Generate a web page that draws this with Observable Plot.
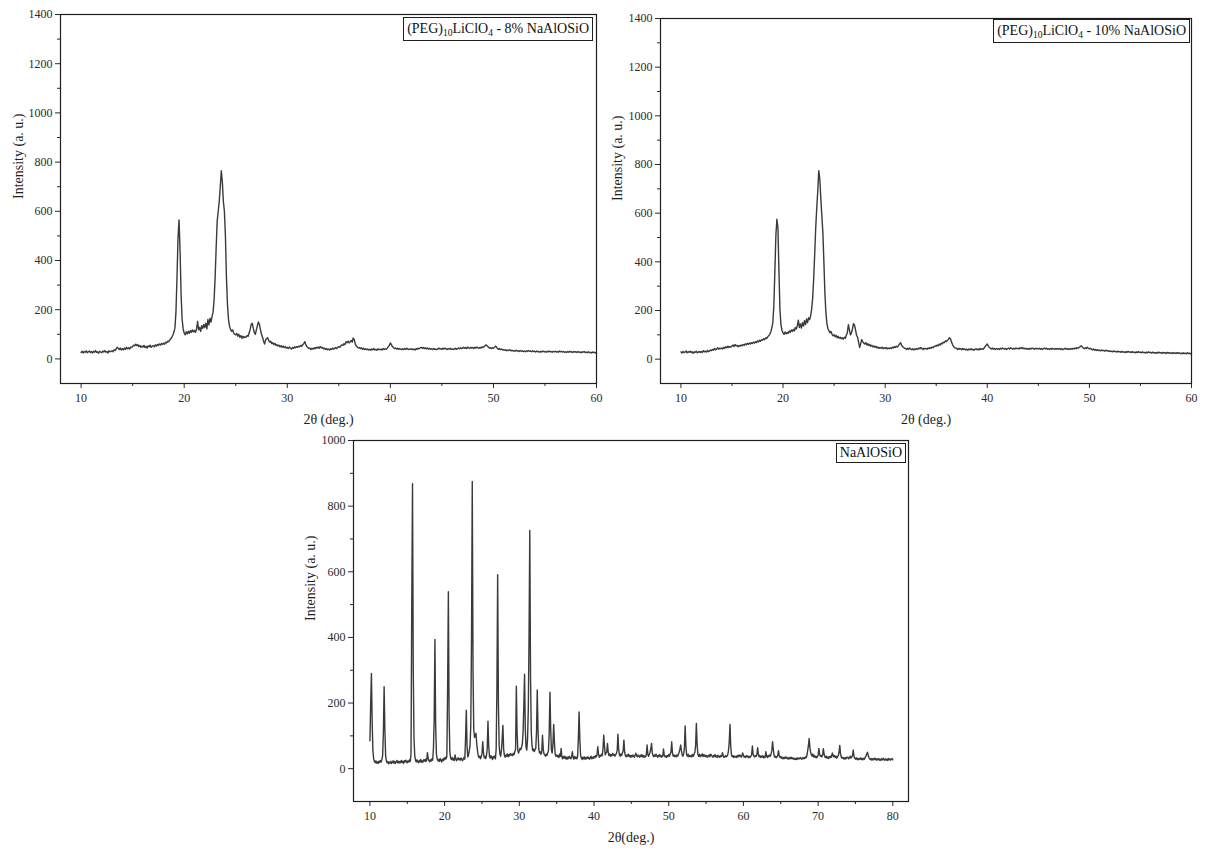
<!DOCTYPE html>
<html>
<head>
<meta charset="utf-8">
<script src="https://cdn.jsdelivr.net/npm/d3@7"></script>
<script src="https://cdn.jsdelivr.net/npm/@observablehq/plot@0.6"></script>
<style>
  html, body { margin: 0; padding: 0; background: #fff; }
  #root { position: relative; width: 1205px; height: 857px; background: #fff; overflow: hidden; }
  .panel { position: absolute; }
  #root svg text, #root svg tspan { font-family: 'Liberation Serif', 'Times New Roman', serif !important; }
  .leg {
    position: absolute; box-sizing: border-box; background: #fff;
    border: 1.3px solid #1e1e1e; padding: 0 3px; white-space: nowrap;
    font-family: 'Liberation Serif', 'Times New Roman', serif; font-size: 14px; color: #111;
  }
  .leg sub { font-size: 9.5px; vertical-align: -3px; line-height: 0; }
</style>
</head>
<body>
<div id="root">
  <div id="p1" class="panel" style="left:0px;top:0px"></div>
  <div id="p2" class="panel" style="left:610px;top:0px"></div>
  <div id="p3" class="panel" style="left:290px;top:430px"></div>
</div>
<script>
// ---------- DATA ----------
// sampling grid of the diffractograms (degrees 2θ)
const STEP = 0.1;
const START_TOP = 10.0;      // both PEG samples: 10.0 … 60.0
const START_BOTTOM = 10.0;   // NaAlOSiO: 10.0 … 80.0

// (PEG)10LiClO4 - 8% NaAlOSiO, intensity at 10.0, 10.1, … 60.0
const intensity8 = [
 26,31,24,30,27,33,25,29,32,26,
 30,24,31,27,34,26,29,23,31,28,
 25,32,28,34,27,30,24,33,29,31,
 33,29,37,34,41,47,43,38,44,36,
 42,37,44,39,47,41,45,40,48,46,
 51,56,53,60,54,58,50,55,47,52,
 48,55,46,51,44,53,49,56,47,52,
 54,49,57,52,59,55,61,56,63,59,
 64,60,68,65,72,70,77,82,88,97,
 108,125,190,330,490,565,440,260,160,122,
 105,98,110,102,112,104,115,108,118,110,
 116,108,122,152,118,128,112,135,124,140,
 128,145,122,160,138,165,150,172,190,240,
 330,450,560,600,640,700,765,720,640,600,
 500,330,220,160,132,120,112,118,106,100,
 98,104,92,100,88,95,84,92,86,90,
 88,95,92,105,120,140,145,125,108,100,
 118,135,150,140,118,100,88,72,60,78,
 82,86,75,68,72,62,66,58,63,55,
 58,52,56,49,54,47,52,46,50,44,
 47,42,48,44,40,46,43,49,45,50,
 47,52,49,55,51,58,62,70,58,50,
 46,42,44,38,43,40,45,41,47,44,
 48,43,50,45,47,41,44,39,42,37,
 40,36,41,38,44,40,43,46,42,48,
 50,47,53,57,55,62,58,70,66,72,
 65,70,75,68,85,78,60,52,48,44,
 46,42,45,39,43,38,41,37,40,36,
 39,35,40,37,42,36,39,35,41,38,
 37,40,36,42,38,41,39,44,50,55,
 65,58,50,46,42,44,40,43,39,42,
 40,37,41,38,42,39,43,40,38,41,
 38,41,37,40,36,42,39,43,41,45,
 47,43,46,42,45,41,44,40,43,39,
 41,38,42,39,40,37,41,44,40,42,
 39,43,40,44,41,38,42,40,43,39,
 41,38,40,43,39,42,44,41,45,42,
 44,47,43,46,42,48,45,43,47,44,
 46,42,47,44,48,45,43,47,44,49,
 46,50,54,57,52,48,44,46,42,45,
 43,47,52,48,42,39,42,38,40,36,
 38,35,37,33,36,34,37,33,35,32,
 34,31,35,32,33,30,34,31,33,30,
 32,29,33,30,34,31,32,29,33,30,
 31,28,32,29,30,27,31,28,32,29,
 30,27,31,28,32,29,30,27,31,29,
 31,28,30,27,32,29,31,28,30,27,
 29,26,30,27,31,28,29,26,30,28,
 29,26,30,27,28,25,29,27,30,26,
 28,25,29,26,27,24,28,26,27,25,
 24
];

// (PEG)10LiClO4 - 10% NaAlOSiO, intensity at 10.0, 10.1, … 60.0
const intensity10 = [
 30,25,32,27,29,34,26,31,28,33,
 27,31,24,30,28,33,26,29,32,27,
 31,28,35,30,33,29,36,31,34,38,
 35,40,37,44,38,42,47,41,45,43,
 46,42,49,45,51,47,53,48,52,50,
 54,58,52,60,55,57,51,56,53,58,
 55,60,57,63,59,65,61,66,62,68,
 64,70,66,72,68,75,71,78,74,80,
 78,84,80,88,85,92,96,102,112,128,
 150,220,360,510,575,540,360,200,140,118,
 108,102,112,104,110,106,116,110,120,114,
 122,116,130,124,138,160,130,145,128,150,
 136,158,142,165,150,170,162,178,205,250,
 330,430,540,620,690,775,740,660,590,520,
 400,270,190,145,125,116,108,114,102,96,
 100,92,98,88,94,86,90,84,88,82,
 90,86,98,110,142,120,100,108,125,146,
 140,120,98,90,70,48,62,80,72,66,
 62,68,58,64,56,60,53,57,50,54,
 49,53,46,50,44,48,45,49,43,47,
 44,48,42,46,43,47,44,49,46,52,
 48,53,50,56,62,68,58,52,48,45,
 44,40,45,41,46,42,39,43,38,42,
 40,44,41,46,43,48,44,40,45,42,
 44,41,46,43,48,45,50,47,52,55,
 53,58,55,62,58,66,63,70,68,75,
 72,78,82,88,84,70,60,52,48,45,
 44,40,45,41,43,39,44,40,42,38,
 41,37,42,39,43,38,41,37,40,43,
 39,42,38,44,40,43,41,46,52,58,
 62,55,48,45,42,46,41,44,40,43,
 41,44,40,45,42,46,43,41,44,40,
 43,46,42,47,44,41,45,42,46,43,
 45,42,47,44,48,43,46,42,45,41,
 44,40,45,42,46,43,41,45,42,44,
 42,45,41,44,40,43,46,42,45,41,
 43,40,44,41,45,42,40,44,41,43,
 41,44,40,43,39,42,45,41,44,40,
 43,40,44,41,45,42,46,43,48,45,
 48,52,55,50,46,43,47,44,49,45,
 42,45,41,38,42,37,40,36,39,35,
 37,34,38,35,36,33,37,34,35,32,
 34,31,33,30,34,31,32,29,33,30,
 31,28,32,29,30,27,31,28,32,29,
 30,27,31,28,29,26,30,27,31,28,
 29,26,30,27,28,25,29,26,30,27,
 28,25,29,26,27,24,28,25,29,26,
 27,24,28,25,27,23,28,25,27,24,
 26,23,27,24,26,23,27,24,26,23,
 25,22,26,23,25,22,26,23,25,22,
 24
];

// NaAlOSiO, intensity at 10.0, 10.1, … 80.0
const intensityNa = [
 85,200,290,140,55,30,22,18,24,17,
 21,16,23,19,25,20,28,40,110,250,
 120,40,24,18,22,15,20,17,23,16,
 19,24,17,22,16,21,25,18,23,17,
 22,18,25,19,23,16,24,20,26,21,
 18,24,20,27,22,45,500,868,300,90,
 40,26,20,27,22,18,25,21,28,19,
 24,20,27,23,29,22,26,49,30,24,
 21,27,23,30,26,60,150,394,130,45,
 30,24,28,22,31,26,20,29,24,32,
 27,35,30,38,250,539,160,50,33,28,
 34,26,31,25,42,30,24,29,33,27,
 31,26,33,28,24,30,35,29,90,178,
 70,36,42,55,70,130,400,875,300,120,
 95,100,108,75,55,40,34,38,30,36,
 45,82,50,33,38,31,40,60,145,70,
 38,32,40,35,28,37,33,39,30,60,
 250,591,200,70,45,38,55,90,132,60,
 40,35,42,38,45,36,43,39,46,41,
 44,40,47,43,52,60,251,110,55,48,
 55,62,58,66,75,110,190,288,120,65,
 57,90,180,400,726,280,110,70,55,60,
 52,58,62,110,240,120,60,48,52,44,
 50,102,60,45,42,38,45,40,48,55,
 110,233,120,55,48,75,135,80,45,38,
 42,36,40,34,45,38,62,35,30,37,
 32,38,30,35,29,36,31,38,33,30,
 36,52,34,29,37,31,35,30,38,90,
 173,90,40,33,28,35,30,36,29,34,
 30,36,31,35,29,33,38,30,35,32,
 37,33,40,36,42,67,45,35,40,38,
 44,40,60,102,70,42,48,50,77,50,
 40,45,38,43,39,46,41,44,38,42,
 47,55,105,60,42,38,45,40,48,55,
 87,50,40,36,42,38,44,37,41,35,
 40,36,42,38,35,41,47,39,36,42,
 38,35,41,37,43,36,40,34,39,36,
 42,72,45,38,44,50,60,77,48,40,
 36,42,38,44,39,35,41,37,43,38,
 35,40,37,60,42,36,39,34,40,37,
 43,38,45,50,82,48,38,42,37,40,
 36,42,38,44,50,60,72,55,42,38,
 45,62,130,70,42,38,44,36,40,37,
 41,36,43,38,45,50,70,138,75,45,
 38,44,36,42,39,45,37,43,38,41,
 36,40,35,39,42,36,44,42,38,35,
 40,37,43,36,39,34,41,37,35,40,
 36,39,49,38,34,37,40,36,38,42,
 55,80,135,70,42,36,40,34,38,35,
 38,34,40,36,42,38,41,35,39,48,
 40,35,38,34,40,36,39,33,37,35,
 38,42,69,45,38,36,40,37,42,64,
 45,36,40,34,38,35,40,33,37,34,
 52,38,34,40,36,42,38,45,55,82,
 60,40,35,38,33,36,42,55,38,34,
 37,32,35,30,34,31,36,32,35,30,
 33,29,34,31,35,30,33,29,32,28,
 31,28,33,29,32,30,34,31,29,33,
 30,34,31,36,33,40,55,70,92,65,
 50,42,38,45,36,40,34,38,33,37,
 41,62,45,38,40,36,42,61,44,36,
 34,38,32,36,31,37,33,39,35,48,
 42,36,40,34,38,32,36,40,50,71,
 45,36,32,35,30,33,29,34,31,35,
 35,30,34,38,32,36,40,57,38,32,
 29,33,28,32,27,31,29,33,28,31,
 27,32,29,34,38,44,50,42,34,30,
 28,31,26,30,27,32,28,31,26,30,
 27,31,26,29,25,30,27,32,28,26,
 30,26,29,25,31,27,30,26,29,31,
 27
];

// tick values
const xTicksTop = [10, 20, 30, 40, 50, 60];
const xMinorTop = [15, 25, 35, 45, 55];
const yTicksTop = [0, 200, 400, 600, 800, 1000, 1200, 1400];
const yMinorTop = [100, 300, 500, 700, 900, 1100, 1300];
const xTicksBottom = [10, 20, 30, 40, 50, 60, 70, 80];
const xMinorBottom = [15, 25, 35, 45, 55, 65, 75];
const yTicksBottom = [0, 200, 400, 600, 800, 1000];
const yMinorBottom = [100, 300, 500, 700, 900];

// texts
const xLabelTop = "2θ (deg.)";
const xLabelBottom = "2θ(deg.)";
const yLabel = "Intensity (a. u.)";
const legend8 = "(PEG)<sub>10</sub>LiClO<sub>4</sub> - 8% NaAlOSiO";
const legend10 = "(PEG)<sub>10</sub>LiClO<sub>4</sub> - 10% NaAlOSiO";
const legendNa = "NaAlOSiO";

// ---------- drawing ----------
const FONT = "'Liberation Serif', 'Times New Roman', serif";
const INK = "#2b2b2b";
const CURVE = "#3a3a3a";

function toRows(values, start) {
  return values.map((v, i) => ({x: +(start + i * STEP).toFixed(1), y: v}));
}

function panel(cfg) {
  const rows = toRows(cfg.values, cfg.start);
  const svg = Plot.plot({
    width: cfg.width,
    height: cfg.height,
    marginLeft: cfg.ml,
    marginRight: cfg.mr,
    marginTop: cfg.mt,
    marginBottom: cfg.mb,
    x: {domain: cfg.xDomain},
    y: {domain: cfg.yDomain},
    style: {fontFamily: FONT, fontSize: "12px", color: INK, background: "transparent", overflow: "visible"},
    marks: [
      Plot.axisY({ticks: cfg.yTicks, tickSize: 5, tickPadding: 3, tickFormat: d => String(d), label: null, fontSize: 12, fontFamily: FONT}),
      Plot.axisY({ticks: cfg.yMinor, tickSize: 3, tickFormat: () => "", label: null}),
      Plot.axisX({ticks: cfg.xTicks, tickSize: 5, tickPadding: 5, tickFormat: d => String(d), label: null, fontSize: 12, fontFamily: FONT}),
      Plot.axisX({ticks: cfg.xMinor, tickSize: 3, tickFormat: () => "", label: null}),
      Plot.line(rows, {x: "x", y: "y", stroke: CURVE, strokeWidth: 1.4, strokeLinejoin: "round"}),
      Plot.frame({stroke: "#1e1e1e", strokeWidth: 1.2}),
      Plot.text([cfg.xLabel], {text: d => d, frameAnchor: "bottom", dy: cfg.xLabelDy, fontSize: 14, fontFamily: FONT, fill: "#1e1e1e"}),
      Plot.text([yLabel], {text: d => d, frameAnchor: "left", rotate: -90, dx: cfg.yLabelDx, fontSize: 14, fontFamily: FONT, fill: "#1e1e1e"})
    ]
  });
  const host = document.getElementById(cfg.el);
  host.appendChild(svg);

  const leg = document.createElement("div");
  leg.className = "leg";
  leg.innerHTML = cfg.legend;
  leg.style.right = cfg.legRight + "px";
  leg.style.top = cfg.legTop + "px";
  leg.style.height = cfg.legH + "px";
  leg.style.lineHeight = (cfg.legH - 2.6) + "px";
  host.appendChild(leg);
}

panel({
  el: "p1", values: intensity8, start: START_TOP,
  width: 610, height: 430, ml: 60, mr: 14, mt: 14, mb: 47,
  xDomain: [8, 60], yDomain: [-100, 1400],
  xTicks: xTicksTop, xMinor: xMinorTop, yTicks: yTicksTop, yMinor: yMinorTop,
  xLabel: xLabelTop, xLabelDy: 40, yLabelDx: -42,
  legend: legend8, legRight: 17, legTop: 17, legH: 24
});

panel({
  el: "p2", values: intensity10, start: START_TOP,
  width: 595, height: 430, ml: 50, mr: 14, mt: 18, mb: 47,
  xDomain: [8, 60], yDomain: [-100, 1400],
  xTicks: xTicksTop, xMinor: xMinorTop, yTicks: yTicksTop, yMinor: yMinorTop,
  xLabel: xLabelTop, xLabelDy: 40, yLabelDx: -43,
  legend: legend10, legRight: 15, legTop: 19, legH: 24
});

panel({
  el: "p3", values: intensityNa, start: START_BOTTOM,
  width: 630, height: 427, ml: 63, mr: 12, mt: 10, mb: 56,
  xDomain: [7.8, 82.1], yDomain: [-100, 1000],
  xTicks: xTicksBottom, xMinor: xMinorBottom, yTicks: yTicksBottom, yMinor: yMinorBottom,
  xLabel: xLabelBottom, xLabelDy: 40, yLabelDx: -43,
  legend: legendNa, legRight: 14, legTop: 13, legH: 20
});
</script>
</body>
</html>
